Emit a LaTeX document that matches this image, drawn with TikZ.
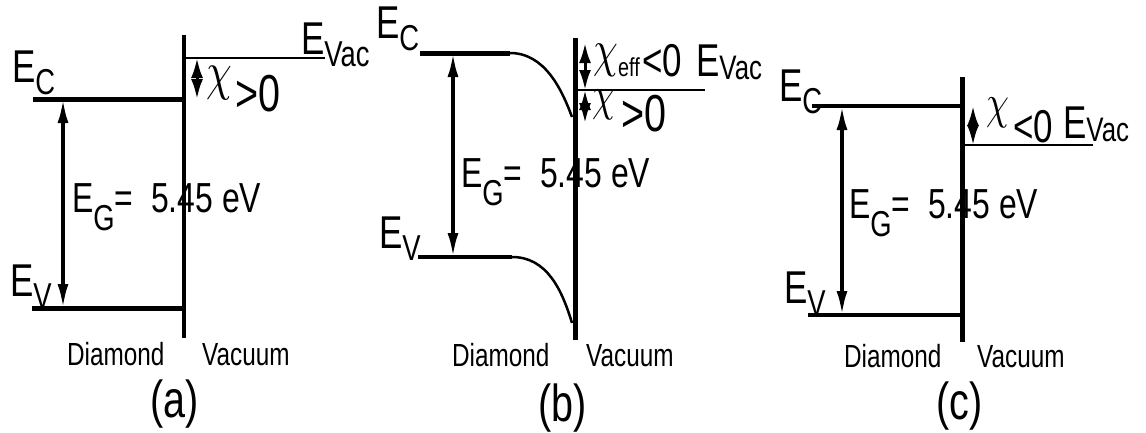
\documentclass[tikz,border=0pt]{standalone}
\usepackage{fontspec}
\setmainfont{Liberation Sans}
\usetikzlibrary{arrows.meta,positioning}
\newcommand{\fs}[1]{\fontsize{#1}{#1}\selectfont}
\newcommand{\lev}[1]{\fs{46}E\raisebox{-12pt}{\fs{36}#1}}
\newcommand{\levvac}[1]{\fs{46}E\raisebox{-3pt}{\fs{34}#1}}
\newcommand{\chiit}[1]{\scalebox{#1}{$\chi$}}
\newcommand{\gaplabel}{\fs{42}E\raisebox{-18pt}{\fs{36}G}=\ \ 5.45 eV}
\begin{document}
\begin{tikzpicture}[x=1pt,y=-1pt,
		txt/.style={inner sep=0,anchor=base west,xscale=0.76},
		band/.style={line width=5pt},
		vac/.style={line width=2.5pt},
		wall/.style={line width=4pt},
		curveline/.style={line width=2.5pt},
		gap/.style={line width=3.5pt,{Latex[length=24pt,width=11pt]}-{Latex[length=24pt,width=11pt]}},
		aff/.style={line width=3pt,{Latex[length=20pt,width=12pt]}-{Latex[length=20pt,width=12pt]}}
		]
		\useasboundingbox (0,0) rectangle (1146,432);
		
		% (a) positive affinity
		\coordinate (aw0) at (184,35);
		\coordinate (aw1) at (184,338);
		\coordinate (ac0) at (33,99);
		\coordinate (ac1) at (184,99);
		\coordinate (av0) at (32,308);
		\coordinate (av1) at (184,308);
		\coordinate (ae0) at (186,58);
		\coordinate (ae1) at (325,58);
		\coordinate (ag0) at (63,99);
		\coordinate (ag1) at (63,308);
		\coordinate (ax0) at (197,58);
		\coordinate (ax1) at (197,99);
		
		\draw[wall] (aw0)--(aw1);
		\draw[band] (ac0)--(ac1);
		\draw[band] (av0)--(av1);
		\draw[vac] (ae0)--(ae1);
		\draw[gap] (ag0)--(ag1);
		\draw[aff] (ax0)--(ax1);
		
		\node[txt] (aEC) at (12,82) {\lev{C}};
		\node[txt] (aEV) at (10,296) {\lev{V}};
		\node[txt] (aEVac) at (301,54) {\lev{Vac}};
		\node[txt] (aEG) at (72,212) {\gaplabel};
		\node[txt] (achi) at (206,89) {\chiit{5.4}};
		\node[txt] (agt) at (235,111) {\fs{52}>0};
		\node[txt] (adia) at (67,365) {\fs{32}Diamond};
		\node[txt] (avacuum) at (202,365) {\fs{32}Vacuum};
		\node[txt] (alab) at (150,417) {\fs{52}(a)};
		
		% (b) band bending, effective negative affinity
		\coordinate (bw0) at (575,38);
		\coordinate (bw1) at (575,340);
		\coordinate (bc0) at (420,53);
		\coordinate (bc1) at (510,53);
		\coordinate (bc2) at (572,117);
		\coordinate (bv0) at (418,257);
		\coordinate (bv1) at (512,257);
		\coordinate (bv2) at (572,323);
		\coordinate (be0) at (578,90);
		\coordinate (be1) at (705,90);
		\coordinate (bg0) at (453,53);
		\coordinate (bg1) at (453,257);
		\coordinate (bx0) at (585,43);
		\coordinate (bx1) at (585,90);
		\coordinate (bx2) at (585,123);
		
		\draw[wall,line width=5pt] (bw0)--(bw1);
		\draw[band] (bc0)--(bc1);
		\draw[curveline] (bc1) .. controls (545,53) and (562,90) .. (bc2);
		\draw[band,line width=3.5pt] (bv0)--(bv1);
		\draw[curveline] (bv1) .. controls (547,257) and (562,290) .. (bv2);
		\draw[vac] (be0)--(be1);
		\draw[gap] (bg0)--(bg1);
		\draw[aff] (bx0)--(bx1);
		\draw[aff] (bx1)--(bx2);
		
		\node[txt] (bEC) at (376,38) {\lev{C}};
		\node[txt] (bEV) at (379,248) {\lev{V}};
		\node[txt] (bEG) at (461,187) {\gaplabel};
		\node[txt] (bchieff) at (593,66) {\chiit{5.2}};
		\node[txt] (beff) at (618,76) {\fs{26}eff};
		\node[txt] (blt) at (642,76) {\fs{46}<0};
		\node[txt] (bEVac) at (696,76) {\levvac{Vac}};
		\node[txt] (bchi) at (592,110) {\chiit{4.8}};
		\node[txt] (bgt) at (621,131) {\fs{52}>0};
		\node[txt] (bdia) at (452,366) {\fs{32}Diamond};
		\node[txt] (bvacuum) at (586,366) {\fs{32}Vacuum};
		\node[txt] (blab) at (538,421) {\fs{52}(b)};
		
		% (c) true negative affinity
		\coordinate (cw0) at (962,77);
		\coordinate (cw1) at (962,342);
		\coordinate (cc0) at (812,106);
		\coordinate (cc1) at (962,106);
		\coordinate (cv0) at (808,315);
		\coordinate (cv1) at (962,315);
		\coordinate (ce0) at (964,145);
		\coordinate (ce1) at (1093,145);
		\coordinate (cg0) at (842,106);
		\coordinate (cg1) at (842,315);
		\coordinate (cx0) at (973,106);
		\coordinate (cx1) at (973,145);
		
		\draw[wall,line width=5pt] (cw0)--(cw1);
		\draw[band,line width=4pt] (cc0)--(cc1);
		\draw[band,line width=4pt] (cv0)--(cv1);
		\draw[vac] (ce0)--(ce1);
		\draw[gap] (cg0)--(cg1);
		\draw[aff] (cx0)--(cx1);
		
		\node[txt] (cEC) at (779,101) {\lev{C}};
		\node[txt] (cEV) at (784,303) {\lev{V}};
		\node[txt] (cEG) at (849,218) {\gaplabel};
		\node[txt] (cchi) at (986,118) {\chiit{4.8}};
		\node[txt] (clt) at (1013,142) {\fs{46}<0};
		\node[txt] (cEVac) at (1063,138) {\levvac{Vac}};
		\node[txt] (cdia) at (844,367) {\fs{32}Diamond};
		\node[txt] (cvacuum) at (977,367) {\fs{32}Vacuum};
		\node[txt] (clab) at (936,419) {\fs{52}(c)};
		
	\end{tikzpicture}
\end{document}
